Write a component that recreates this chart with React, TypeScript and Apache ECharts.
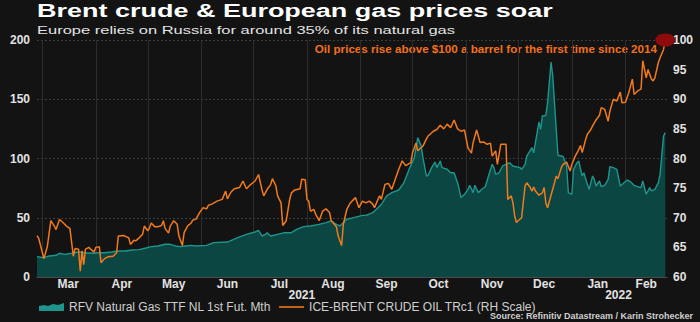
import React, { useEffect, useRef } from 'react';
import * as echarts from 'echarts';

const oilDates = [
  '2021-02-26','2021-02-27','2021-03-02','2021-03-04','2021-03-06','2021-03-08','2021-03-09','2021-03-11','2021-03-13','2021-03-15',
  '2021-03-17','2021-03-19','2021-03-20','2021-03-22','2021-03-23','2021-03-24','2021-03-25','2021-03-26','2021-03-28','2021-03-29',
  '2021-03-31','2021-04-01','2021-04-03','2021-04-04','2021-04-06','2021-04-08','2021-04-11','2021-04-13','2021-04-14','2021-04-17',
  '2021-04-20','2021-04-21','2021-04-23','2021-04-24','2021-04-26','2021-04-28','2021-04-29','2021-05-01','2021-05-02','2021-05-03',
  '2021-05-05','2021-05-07','2021-05-09','2021-05-10','2021-05-11','2021-05-13','2021-05-14','2021-05-16','2021-05-18','2021-05-19',
  '2021-05-21','2021-05-22','2021-05-24','2021-05-26','2021-05-27','2021-05-29','2021-05-31','2021-06-02','2021-06-04','2021-06-05',
  '2021-06-07','2021-06-10','2021-06-13','2021-06-15','2021-06-16','2021-06-18','2021-06-20','2021-06-23','2021-06-25','2021-06-27',
  '2021-06-29','2021-07-02','2021-07-04','2021-07-06','2021-07-07','2021-07-09','2021-07-11','2021-07-12','2021-07-14','2021-07-15',
  '2021-07-17','2021-07-18','2021-07-20','2021-07-22','2021-07-23','2021-07-25','2021-07-28','2021-07-29','2021-07-31','2021-08-01',
  '2021-08-02','2021-08-03','2021-08-05','2021-08-06','2021-08-08','2021-08-10','2021-08-12','2021-08-14','2021-08-15','2021-08-18',
  '2021-08-19','2021-08-21','2021-08-22','2021-08-24','2021-08-26','2021-08-28','2021-08-29','2021-08-31','2021-09-02','2021-09-04',
  '2021-09-06','2021-09-08','2021-09-09','2021-09-11','2021-09-12','2021-09-13','2021-09-15','2021-09-17','2021-09-19','2021-09-21',
  '2021-09-23','2021-09-25','2021-09-27','2021-09-30','2021-10-01','2021-10-03','2021-10-04','2021-10-07','2021-10-09','2021-10-10',
  '2021-10-13','2021-10-15','2021-10-17','2021-10-19','2021-10-21','2021-10-23','2021-10-25','2021-10-27','2021-10-29','2021-10-31',
  '2021-11-02','2021-11-04','2021-11-05','2021-11-07','2021-11-09','2021-11-11','2021-11-13','2021-11-15','2021-11-16','2021-11-18',
  '2021-11-19','2021-11-21','2021-11-24','2021-11-25','2021-11-27','2021-11-28','2021-11-29','2021-11-30','2021-12-01','2021-12-03',
  '2021-12-05','2021-12-06','2021-12-08','2021-12-09','2021-12-10','2021-12-11','2021-12-13','2021-12-15','2021-12-16','2021-12-17',
  '2021-12-18','2021-12-20','2021-12-22','2021-12-23','2021-12-24','2021-12-26','2021-12-27','2021-12-29','2021-12-31','2022-01-01',
  '2022-01-03','2022-01-05','2022-01-06','2022-01-07','2022-01-09','2022-01-10','2022-01-12','2022-01-13','2022-01-15','2022-01-17',
  '2022-01-18','2022-01-20','2022-01-22','2022-01-23','2022-01-25','2022-01-27','2022-01-29','2022-01-30','2022-02-01','2022-02-03',
  '2022-02-05','2022-02-06','2022-02-08','2022-02-10','2022-02-11','2022-02-13','2022-02-14','2022-02-16','2022-02-17','2022-02-18',
  '2022-02-20','2022-02-21','2022-02-23','2022-02-24'
];
const oilValues = [
  67.0,66.5,63.1,65.2,69.5,68.6,68.0,69.7,69.2,68.6,
  68.2,63.5,64.8,64.7,61.0,64.4,62.1,64.7,65.0,64.7,
  64.2,65.0,65.1,62.4,63.1,63.4,63.5,64.1,66.9,67.0,
  66.6,65.5,66.2,66.1,66.6,67.2,68.6,67.8,68.3,69.1,
  68.5,68.5,68.7,69.5,68.2,67.4,68.6,69.5,68.9,66.9,
  65.3,67.5,68.6,69.1,69.6,69.8,70.9,71.7,71.5,72.1,
  72.3,72.8,73.1,74.5,73.2,74.3,74.9,75.1,76.2,74.9,
  75.5,76.2,77.3,74.7,73.7,74.8,75.6,76.6,75.4,73.7,
  72.5,68.7,69.5,73.1,74.2,74.7,74.9,76.5,76.4,73.1,
  72.8,71.1,71.4,70.6,69.5,71.1,71.5,70.9,69.5,68.5,
  66.9,65.3,68.9,71.4,72.5,73.1,73.4,71.7,72.8,72.5,
  72.8,72.3,71.7,73.1,73.7,73.1,75.6,75.8,74.8,76.5,
  78.2,79.6,78.8,79.3,81.0,82.6,81.3,82.1,83.3,83.8,
  84.6,84.9,85.6,85.0,85.8,85.2,86.5,85.0,84.6,84.8,
  81.8,80.9,82.7,84.8,82.7,82.8,82.4,82.6,80.4,81.3,
  79.0,82.4,82.4,73.1,73.7,72.5,70.3,69.2,69.5,70.0,
  75.4,75.9,75.1,74.5,75.2,74.5,73.8,74.2,75.1,72.5,
  71.7,73.8,75.9,77.0,76.6,78.5,79.0,79.4,77.9,79.0,
  80.4,81.5,82.2,81.0,83.2,84.1,84.9,85.5,86.5,87.3,
  88.6,88.3,86.3,88.0,90.0,89.7,91.2,89.4,89.5,91.2,
  93.4,90.8,91.4,91.7,96.5,93.6,95.0,93.4,93.1,93.6,
  96.2,97.0,98.4,100.0
];

const gasDates = [
  '2021-02-26','2021-03-02','2021-03-05','2021-03-09','2021-03-11','2021-03-14','2021-03-18','2021-03-22','2021-03-26','2021-03-30',
  '2021-04-03','2021-04-06','2021-04-10','2021-04-14','2021-04-18','2021-04-22','2021-04-26','2021-04-30','2021-05-03','2021-05-07',
  '2021-05-11','2021-05-14','2021-05-17','2021-05-20','2021-05-23','2021-05-26','2021-05-29','2021-06-04','2021-06-08','2021-06-16',
  '2021-06-22','2021-06-27','2021-07-02','2021-07-04','2021-07-06','2021-07-08','2021-07-09','2021-07-11','2021-07-15','2021-07-19',
  '2021-07-23','2021-07-26','2021-07-30','2021-08-03','2021-08-08','2021-08-12','2021-08-15','2021-08-17','2021-08-20','2021-08-24',
  '2021-08-28','2021-09-02','2021-09-04','2021-09-08','2021-09-11','2021-09-13','2021-09-16','2021-09-19','2021-09-23','2021-09-26',
  '2021-09-29','2021-10-02','2021-10-04','2021-10-06','2021-10-07','2021-10-09','2021-10-10','2021-10-12','2021-10-14','2021-10-15',
  '2021-10-17','2021-10-18','2021-10-21','2021-10-23','2021-10-25','2021-10-27','2021-10-29','2021-10-31','2021-11-02','2021-11-03',
  '2021-11-05','2021-11-06','2021-11-08','2021-11-10','2021-11-12','2021-11-14','2021-11-16','2021-11-17','2021-11-18','2021-11-20',
  '2021-11-22','2021-11-24','2021-11-26','2021-11-28','2021-12-02','2021-12-03','2021-12-05','2021-12-06','2021-12-09','2021-12-10',
  '2021-12-13','2021-12-14','2021-12-15','2021-12-17','2021-12-18','2021-12-20','2021-12-21','2021-12-22','2021-12-23','2021-12-24',
  '2021-12-26','2021-12-27','2021-12-29','2021-12-30','2022-01-01','2022-01-02','2022-01-04','2022-01-05','2022-01-07','2022-01-08',
  '2022-01-10','2022-01-11','2022-01-13','2022-01-14','2022-01-15','2022-01-17','2022-01-18','2022-01-20','2022-01-22','2022-01-23',
  '2022-01-25','2022-01-27','2022-01-29','2022-02-02','2022-02-04','2022-02-06','2022-02-08','2022-02-10','2022-02-11','2022-02-13',
  '2022-02-15','2022-02-16','2022-02-18','2022-02-20','2022-02-21','2022-02-23','2022-02-24'
];
const gasValues = [
  17.2,16.3,17.7,18.3,20.0,19.1,20.0,21.1,20.5,20.0,
  20.5,20.5,21.1,21.9,21.9,22.8,23.1,24.5,25.6,26.2,
  27.6,27.6,26.2,25.6,26.2,26.7,26.2,26.7,29.0,29.5,
  33.2,36.0,38.0,39.4,34.6,36.0,37.4,34.6,36.0,37.4,
  37.4,40.2,42.5,43.0,44.4,45.9,47.3,45.3,43.0,48.7,
  50.1,52.0,52.0,54.3,58.5,61.3,68.4,71.2,73.4,79.6,
  90.9,100.7,117.6,110.5,100.7,85.2,85.8,92.3,97.0,92.3,
  97.9,92.3,90.9,88.0,88.0,79.6,67.0,69.8,74.0,77.4,
  71.2,77.4,71.2,74.0,76.2,85.8,95.1,92.3,86.6,88.0,
  93.7,95.1,96.5,93.7,92.3,90.9,95.1,102.1,109.1,104.9,
  130.8,124.6,135.9,136.4,147.1,181.4,169.6,147.1,124.6,102.7,
  102.1,101.5,93.7,71.2,69.8,90.9,96.5,97.9,85.2,88.0,
  78.2,74.0,85.2,82.4,76.8,81.0,76.2,77.4,82.4,93.1,
  92.3,90.9,76.8,81.9,80.2,77.4,76.2,75.4,81.0,69.8,
  75.4,72.6,74.0,79.6,86.6,119.0,121.8
];

const monthStarts = ['2021-03-01','2021-04-01','2021-05-01','2021-06-01','2021-07-01','2021-08-01','2021-09-01','2021-10-01','2021-11-01','2021-12-01','2022-01-01','2022-02-01'];
const monthLabelDates = ['2021-03-16','2021-04-16','2021-05-16','2021-06-16','2021-07-16','2021-08-16','2021-09-16','2021-10-16','2021-11-16','2021-12-16','2022-01-16','2022-02-13'];
const monthNames = ['Jan','Feb','Mar','Apr','May','Jun','Jul','Aug','Sep','Oct','Nov','Dec'];
const yearLabelDates = ['2021-07-29','2022-01-28'];
const axisStart = '2021-02-26';
const axisEnd = '2022-02-25';

const titleText = 'Brent crude & European gas prices soar';
const subtitleText = 'Europe relies on Russia for around 35% of its natural gas';
const noteText = 'Oil prices rise above $100 a barrel for the first time since 2014';
const sourceText = 'Source: Refinitiv Datastream / Karin Strohecker';
const gasName = 'RFV Natural Gas TTF NL 1st Fut. Mth';
const oilName = 'ICE-BRENT CRUDE OIL TRc1 (RH Scale)';

const ts = (s: string) => {
  const [y, m, d] = s.split('-').map(Number);
  return new Date(y, m - 1, d).getTime();
};

const FONT = 'Liberation Sans, Arial, Helvetica, sans-serif';

export default function App() {
  const ref = useRef<HTMLDivElement>(null);
  useEffect(() => {
    if (!ref.current) return;
    const chart = echarts.init(ref.current, null, { renderer: 'svg' });
    const gasData = gasDates.map((d, i) => [ts(d), gasValues[i]]);
    const oilData = oilDates.map((d, i) => [ts(d), oilValues[i]]);
    const last = oilData[oilData.length - 1];
    chart.setOption({
      animation: false,
      backgroundColor: '#131313',
      textStyle: { fontFamily: FONT },
      grid: { left: 37, right: 33, top: 40, bottom: 45, containLabel: false },
      legend: {
        left: 34,
        top: 296,
        itemWidth: 25,
        itemHeight: 9,
        itemGap: 8,
        textStyle: { color: '#cfcfcf', fontSize: 12, fontFamily: FONT },
        data: [
          { name: gasName, icon: 'path://M0,5 L5,4 L9,5 L14,3 L19,4 L25,2 L25,10 L0,10 Z' },
          { name: oilName, icon: 'path://M0,4.2 L25,4.2 L25,5.8 L0,5.8 Z' },
        ],
      },
      xAxis: [
        {
          type: 'value',
          min: ts(axisStart),
          max: ts(axisEnd),
          axisLine: { show: true, lineStyle: { color: '#4a4a4a' } },
          axisTick: { show: false, customValues: monthStarts.map(ts) },
          splitLine: { show: true, lineStyle: { color: '#2c2c2c', width: 1 } },
          axisLabel: {
            customValues: monthLabelDates.map(ts),
            formatter: (v: number) => monthNames[new Date(v).getMonth()],
            color: '#e2e2e2',
            fontSize: 12,
            fontWeight: 'bold',
            margin: 1,
            showMinLabel: true,
            showMaxLabel: true,
          },
        },
        {
          type: 'value',
          position: 'bottom',
          offset: 11,
          min: ts(axisStart),
          max: ts(axisEnd),
          axisLine: { show: false },
          axisTick: { show: false },
          splitLine: { show: false },
          axisLabel: {
            customValues: yearLabelDates.map(ts),
            formatter: (v: number) => String(new Date(v).getFullYear()),
            color: '#e2e2e2',
            fontSize: 12,
            fontWeight: 'bold',
            margin: 1,
          },
        },
      ],
      yAxis: [
        {
          type: 'value',
          min: 0,
          max: 200,
          interval: 50,
          axisLine: { show: false },
          axisTick: { show: false },
          splitLine: { show: true, lineStyle: { color: '#3c3c3c', type: [2, 2] } },
          axisLabel: { color: '#e2e2e2', fontSize: 12, fontWeight: 'bold', margin: 7 },
        },
        {
          type: 'value',
          min: 60,
          max: 100,
          interval: 5,
          position: 'right',
          axisLine: { show: false },
          axisTick: { show: false },
          splitLine: { show: false },
          axisLabel: { color: '#e2e2e2', fontSize: 12, fontWeight: 'bold', margin: 6 },
        },
      ],
      series: [
        {
          name: gasName,
          type: 'line',
          xAxisIndex: 0,
          yAxisIndex: 0,
          data: gasData,
          showSymbol: false,
          smooth: false,
          lineStyle: { color: '#1f958d', width: 1.4 },
          itemStyle: { color: '#1f958d' },
          areaStyle: { color: '#0b4642', opacity: 1 },
          z: 2,
        },
        {
          name: oilName,
          type: 'line',
          xAxisIndex: 0,
          yAxisIndex: 1,
          data: oilData,
          showSymbol: false,
          lineStyle: { color: '#f27a1c', width: 1.5 },
          itemStyle: { color: '#f27a1c' },
          z: 3,
          markPoint: {
            symbol: 'circle',
            symbolSize: [20, 13],
            silent: true,
            itemStyle: { color: '#8f0a0a' },
            label: { show: false },
            data: [{ coord: last }],
          },
        },
      ],
      graphic: [
        {
          type: 'text',
          x: 37,
          y: 11,
          scaleX: 1.46,
          style: { text: titleText, fill: '#ffffff', font: `bold 18.5px ${FONT}`, align: 'left', verticalAlign: 'middle' },
        },
        {
          type: 'text',
          x: 37,
          y: 30,
          scaleX: 1.5,
          style: { text: subtitleText, fill: '#e4e4e4', font: `11px ${FONT}`, align: 'left', verticalAlign: 'middle' },
        },
        {
          type: 'text',
          x: 657,
          y: 49,
          scaleX: 1.11,
          style: { text: noteText, fill: '#f26f1d', font: `bold 10.5px ${FONT}`, align: 'right', verticalAlign: 'middle' },
        },
        {
          type: 'text',
          x: 693,
          y: 316,
          style: { text: sourceText, fill: '#cfcfcf', font: `bold 9px ${FONT}`, align: 'right', verticalAlign: 'middle' },
        },
      ],
    });
    return () => chart.dispose();
  }, []);
  return <div ref={ref} style={{ width: 700, height: 322, position: 'absolute', left: 0, top: 0 }} />;
}
